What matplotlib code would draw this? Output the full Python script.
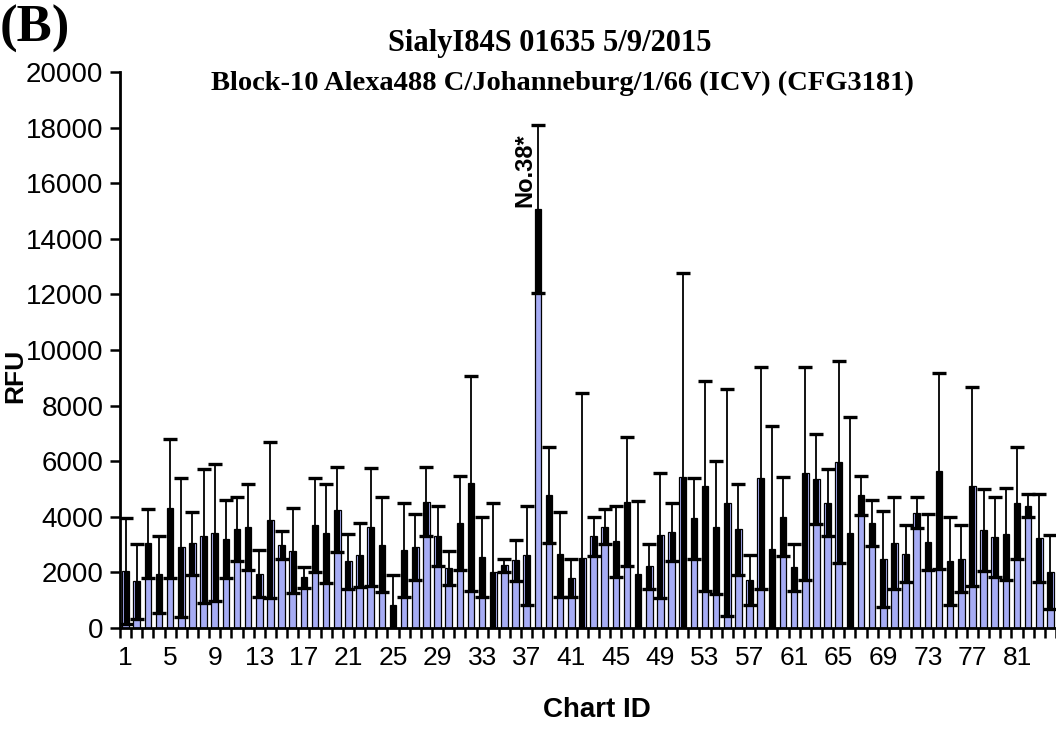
import numpy as np
import matplotlib
matplotlib.use("Agg")
import matplotlib.pyplot as plt

chart_id = list(range(1, 85))
means = [2050, 1680, 3050, 1930, 4300, 2910, 3040, 3300, 3430, 3200,
         3550, 3630, 1960, 3890, 3000, 2780, 1820, 3720, 3400, 4250,
         2400, 2640, 3640, 3000, 830, 2800, 2920, 4540, 3310, 2160,
         3780, 5200, 2550, 2030, 2260, 2440, 2610, 15080, 4780, 2660,
         1800, 2510, 3300, 3650, 3120, 4550, 1930, 2220, 3340, 3440,
         5420, 3950, 5110, 3620, 4510, 3550, 1730, 5400, 2830, 4000,
         2180, 5560, 5360, 4510, 5970, 3400, 4780, 3770, 2480, 3060,
         2670, 4140, 3100, 5650, 2410, 2500, 5090, 3530, 3280, 3380,
         4500, 4400, 3240, 2010]
sds = [1900, 1350, 1240, 1380, 2490, 2500, 1150, 2410, 2460, 1400,
       1150, 1550, 830, 2800, 500, 1530, 390, 1690, 1780, 1530,
       980, 1150, 2130, 1700, 1080, 1700, 1180, 1240, 1080, 620,
       1690, 3860, 1450, 2450, 230, 740, 1780, 3020, 1720, 1530,
       700, 5950, 700, 640, 1270, 2320, 2650, 800, 2250, 1040,
       7360, 1450, 3770, 2400, 4080, 1630, 900, 4000, 4440, 1420,
       840, 3820, 1620, 1200, 3620, 4180, 700, 830, 1730, 1640,
       1030, 560, 1000, 3530, 1600, 1190, 3590, 1480, 1430, 1650,
       2000, 410, 1570, 1330]
xtick_labels = [str(v) for v in range(1, 85, 4)]
yticks = list(range(0, 20001, 2000))
title_lines = ["SialyI84S 01635 5/9/2015",
               "Block-10 Alexa488 C/Johanneburg/1/66 (ICV) (CFG3181)"]
annot_text = "No.38*"
annot_id = 38

x = np.array(chart_id)
m = np.array(means, dtype=float)
s = np.array(sds, dtype=float)

fig = plt.figure(figsize=(10.56, 7.29), dpi=100)
ax = fig.add_axes([120/1056, 101/729, 1 - 120/1056, (628-72)/729])

ax.bar(x, m, width=0.58, color='#A6ACF4', edgecolor='black', linewidth=0.9, zorder=2)
ax.errorbar(x, m, yerr=s, fmt='none', ecolor='black', elinewidth=1.3,
            capsize=5, capthick=2.4, zorder=3)
ax.vlines(x, m - s, m, colors='black', linewidth=3.6, zorder=4)

ax.set_xlim(0.5, 0.5 + 936/11.26)
ax.set_ylim(0, 20000)

ax.set_xticks(list(range(1, 85, 4)))
ax.set_xticklabels(xtick_labels, fontsize=19, fontfamily='Liberation Sans')
ax.set_xticks(np.arange(0.5, 84.6, 1.0), minor=True)
ax.tick_params(axis='x', which='major', length=0, pad=13)
ax.tick_params(axis='x', which='minor', length=7, width=1.8, direction='out')
ax.set_yticks(yticks)
ax.set_yticklabels([str(v) for v in yticks], fontsize=20, fontfamily='Liberation Sans')
ax.tick_params(axis='y', length=7, width=1.8, direction='out', pad=5)

for sp in ['top', 'right']:
    ax.spines[sp].set_visible(False)
for sp in ['left', 'bottom']:
    ax.spines[sp].set_linewidth(2)

fig.text(15/1056, 1 - 376/729, 'RFU', rotation=90, ha='center', va='center',
         fontsize=19, fontweight='bold', fontfamily='Liberation Sans')
fig.text(597/1056, 1 - 710/729, 'Chart ID', ha='center', va='center',
         fontsize=20, fontweight='bold', fontfamily='Liberation Sans')

i = annot_id - 1
ax.text(annot_id - 0.1, m[i] + 50, annot_text, rotation=90, ha='right', va='bottom',
        fontsize=17, fontweight='bold', fontfamily='Liberation Sans', zorder=5)

fig.text(550/1056, 1 - 43/729, title_lines[0], ha='center', va='center',
         fontsize=22, fontweight='bold', fontfamily='Liberation Serif')
fig.text(562/1056, 1 - 83/729, title_lines[1], ha='center', va='center',
         fontsize=20.5, fontweight='bold', fontfamily='Liberation Serif')
fig.text(0.0, 1 - 29/729, '(B)', ha='left', va='center',
         fontsize=38, fontweight='bold', fontfamily='Liberation Serif')

fig.savefig('out.png', dpi=100)
